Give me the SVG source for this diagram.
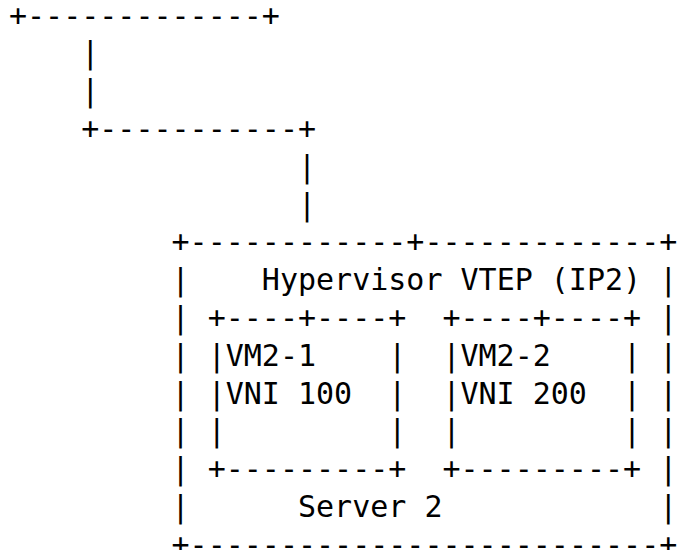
<svg xmlns="http://www.w3.org/2000/svg" width="679" height="550" viewBox="0 0 679 550" xml:space="preserve">
<style>
text { font-family: "DejaVu Sans Mono", "Liberation Mono", monospace; font-size: 30px; fill: #000; white-space: pre; }
</style>
<rect x="0" y="0" width="679" height="550" fill="#fff"/>
<g id="connectors">
<text x="9" y="25.5">+-------------+</text>
<text x="81.24" y="63.3">|</text>
<text x="81.24" y="101.1">|</text>
<text x="81.24" y="138.9">+-----------+</text>
<text x="297.96" y="176.7">|</text>
<text x="297.96" y="214.5">|</text>
</g>
<g id="server2">
<text x="171.54" y="252.3">+------------+-------------+</text>
<text x="171.54" y="290.1">|</text>
<text x="261.84" y="290.1">Hypervisor VTEP (IP2)</text>
<text x="659.16" y="290.1">|</text>
<text x="171.54" y="327.9">|</text>
<text x="659.16" y="327.9">|</text>
<text x="171.54" y="365.7">|</text>
<text x="659.16" y="365.7">|</text>
<text x="171.54" y="403.5">|</text>
<text x="659.16" y="403.5">|</text>
<text x="171.54" y="441.3">|</text>
<text x="659.16" y="441.3">|</text>
<text x="171.54" y="479.1">|</text>
<text x="659.16" y="479.1">|</text>
<text x="171.54" y="516.9">|</text>
<text x="297.96" y="516.9">Server 2</text>
<text x="659.16" y="516.9">|</text>
<text x="171.54" y="554.7">+--------------------------+</text>
</g>
<g id="vm2-1">
<text x="207.66" y="327.9">+----+----+</text>
<text x="207.66" y="365.7">|VM2-1    |</text>
<text x="207.66" y="403.5">|VNI 100  |</text>
<text x="207.66" y="441.3">|         |</text>
<text x="207.66" y="479.1">+---------+</text>
</g>
<g id="vm2-2">
<text x="442.44" y="327.9">+----+----+</text>
<text x="442.44" y="365.7">|VM2-2    |</text>
<text x="442.44" y="403.5">|VNI 200  |</text>
<text x="442.44" y="441.3">|         |</text>
<text x="442.44" y="479.1">+---------+</text>
</g>
</svg>
